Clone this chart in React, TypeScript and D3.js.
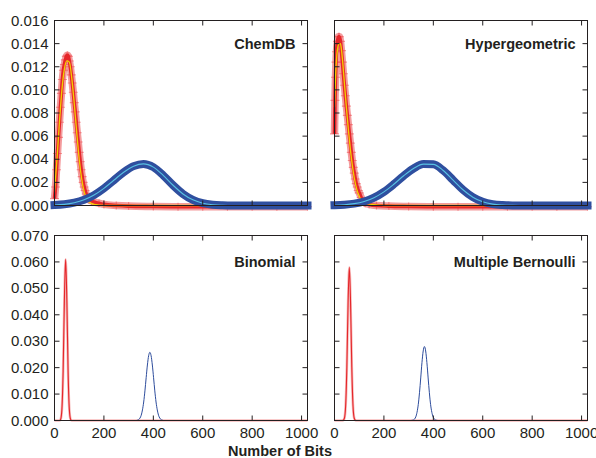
import React from 'react';
import * as d3 from 'd3';

const W = 596;
const H = 458;
const BITS_MAX = 1024;
const FONT = '"Liberation Sans", Arial, Helvetica, sans-serif';
const INK = '#231f20';

const xTicks = [0, 200, 400, 600, 800, 1000];
const topTicks = [0, 0.002, 0.004, 0.006, 0.008, 0.01, 0.012, 0.014, 0.016];
const bottomTicks = [0, 0.01, 0.02, 0.03, 0.04, 0.05, 0.06, 0.07];

// ChemDB (top left)
const chemRedBits = [0, 4, 8, 12, 16, 20, 24, 28, 32, 36, 40, 44, 48, 52, 56, 60, 64, 68, 72, 76, 80, 84, 88, 92, 96, 100, 104, 108, 112, 116, 120, 124, 128, 132, 136, 140, 150, 160, 180, 200, 250, 300, 400, 500, 600, 700, 800, 900, 1024];
const chemRedVals = [0.0007, 0.0017, 0.0032, 0.0046, 0.006, 0.0073, 0.0086, 0.0098, 0.011, 0.0118, 0.0123, 0.0127, 0.013, 0.0131, 0.013, 0.0126, 0.0121, 0.0114, 0.0107, 0.0099, 0.009, 0.0082, 0.0073, 0.0064, 0.0056, 0.0047, 0.0039, 0.0032, 0.0026, 0.0021, 0.0017, 0.0014, 0.0011, 0.0009, 0.0008, 0.0006, 0.0005, 0.0004, 0.0003, 0.0002, 0.0001, 0.00005, 0.00002, 0, 0, 0, 0, 0, 0];
const chemFitBits = [0, 10, 20, 30, 40, 50, 60, 70, 80, 90, 100, 110, 120, 130, 140, 160, 200, 1024];
const chemFitVals = [0.0012, 0.004, 0.0072, 0.01, 0.0118, 0.0125, 0.0124, 0.011, 0.0088, 0.0063, 0.004, 0.0023, 0.0012, 0.0006, 0.0003, 0.0001, 0, 0];

// Hypergeometric (top right)
const hypRedBits = [0, 2, 4, 6, 8, 12, 16, 20, 24, 28, 32, 36, 40, 44, 48, 52, 56, 60, 64, 68, 72, 76, 80, 84, 88, 92, 96, 100, 108, 116, 124, 140, 170, 220, 300, 400, 500, 600, 700, 800, 900, 1024];
const hypRedVals = [0.0063, 0.0092, 0.0112, 0.0125, 0.0134, 0.0143, 0.0147, 0.0147, 0.0143, 0.0135, 0.0125, 0.0115, 0.0105, 0.0096, 0.0087, 0.0079, 0.0071, 0.0063, 0.0055, 0.0047, 0.004, 0.0034, 0.0029, 0.0024, 0.002, 0.0017, 0.0014, 0.0012, 0.0008, 0.0005, 0.0003, 0.0002, 0.0001, 0.00005, 0.00002, 0, 0, 0, 0, 0, 0, 0];
const hypFitBits = [0, 4, 8, 12, 16, 20, 24, 28, 32, 40, 48, 56, 64, 72, 80, 90, 100, 110, 125, 150, 200, 1024];
const hypFitVals = [0.0085, 0.011, 0.0126, 0.0135, 0.0139, 0.014, 0.014, 0.0135, 0.0127, 0.0106, 0.0085, 0.0066, 0.0049, 0.0035, 0.0024, 0.0014, 0.0008, 0.0004, 0.0002, 0.0001, 0, 0];

// blue (long fingerprints), same bits for both top panels
const blueBits = [0, 40, 80, 120, 160, 200, 240, 280, 320, 360, 400, 440, 480, 520, 560, 600, 640, 680, 720, 800, 900, 1024];
const chemBlueVals = [0.00004, 0.0001, 0.00024, 0.00049, 0.0009, 0.00148, 0.00218, 0.00288, 0.0034, 0.0036, 0.00332, 0.00261, 0.00175, 0.001, 0.00049, 0.0002, 0.00007, 0.00002, 0, 0, 0, 0];
const hypBlueVals = [0.000024, 0.000066, 0.00016, 0.00035, 0.00068, 0.00118, 0.00184, 0.00257, 0.0032, 0.00358, 0.00356, 0.00303, 0.0022, 0.00136, 0.00072, 0.00032, 0.00012, 0.00004, 0.00001, 0, 0, 0];

// Binomial (bottom left)
const binRedBits = [0, 20, 25, 30, 35, 40, 45, 50, 55, 60, 65, 70, 1024];
const binRedVals = [0, 0, 0.0005, 0.0043, 0.0187, 0.0454, 0.061, 0.0454, 0.0187, 0.0043, 0.0005, 0, 0];
const binBlueBits = [0, 331, 336, 341, 346, 351, 356, 361, 366, 371, 376, 381, 386, 391, 396, 401, 406, 411, 416, 421, 426, 431, 436, 441, 1024];
const binBlueVals = [0, 0, 0.00014, 0.00038, 0.00092, 0.002, 0.004, 0.007, 0.0112, 0.0162, 0.021, 0.0245, 0.0258, 0.0245, 0.021, 0.0162, 0.0112, 0.007, 0.004, 0.002, 0.00092, 0.00038, 0.00014, 0, 0];

// Multiple Bernoulli (bottom right)
const mbRedBits = [0, 30, 35, 40, 45, 50, 55, 60, 65, 70, 75, 80, 85, 90, 1024];
const mbRedVals = [0, 0, 0.00008, 0.00085, 0.0054, 0.0202, 0.0445, 0.058, 0.0445, 0.0202, 0.0054, 0.00085, 0.00008, 0, 0];
const mbBlueBits = [0, 309, 314, 319, 324, 329, 334, 339, 344, 349, 354, 359, 364, 369, 374, 379, 384, 389, 394, 399, 404, 409, 414, 419, 1024];
const mbBlueVals = [0, 0, 0.00006, 0.00019, 0.00054, 0.00137, 0.0031, 0.006, 0.0105, 0.0161, 0.0219, 0.0263, 0.028, 0.0263, 0.0219, 0.0161, 0.0105, 0.006, 0.0031, 0.00137, 0.00054, 0.00019, 0.00006, 0, 0];

type Series = { bits: number[]; vals: number[] };

const Panel = ({ left, right, top, bottom, yMax, yTicks, showY, showX, title, red, fit, blue, lines }: any) => {
  const x = d3.scaleLinear().domain([0, BITS_MAX]).range([left, right]);
  const y = d3.scaleLinear().domain([0, yMax]).range([bottom, top]);
  const path = (s: Series) =>
    d3.line<number>()
      .x((d, i) => x(s.bits[i]))
      .y(d => y(d))
      .curve(d3.curveMonotoneX)(s.vals) || '';
  const fmt = d3.format('.3f');

  return (
    <g>
      {lines ? (
        <g fill="none">
          <path d={path(red)} stroke="#f29a9a" strokeWidth={2.6} opacity={0.7} />
          <path d={path(red)} stroke="#e5262a" strokeWidth={1.1} />
          <path d={path(blue)} stroke="#2d4c9c" strokeWidth={1} />
        </g>
      ) : (
        <g fill="none">
          {/* red markers sit a touch low, like the printed + symbols */}
          <g transform="translate(0,1.2)">
            <path d={path(red)} stroke="#f07173" strokeWidth={7.5} opacity={0.7} strokeLinejoin="round" />
            {red.bits.map((b: number, i: number) => (
              <path key={i} transform={`translate(${x(b)},${y(red.vals[i])})`}
                d="M-4.5,0H4.5M0,-4V4" stroke="#ee5558" strokeWidth={1.1} opacity={0.6} />
            ))}
            <path d={path(red)} stroke="#e6262a" strokeWidth={3.6} strokeLinejoin="round" />
          </g>
          <path d={path(fit)} stroke="#f2d000" strokeWidth={1.3} />
          <path d={path(blue)} stroke="#2f4f9f" strokeWidth={8} strokeLinecap="square" strokeLinejoin="round" />
          <path d={path(blue)} stroke="#58c2e2" strokeWidth={1.1} />
        </g>
      )}

      <rect x={left} y={top} width={right - left} height={bottom - top} fill="none" stroke={INK} strokeWidth={1} />

      {xTicks.map(t => (
        <g key={'x' + t}>
          <line x1={x(t)} x2={x(t)} y1={bottom} y2={bottom - 5} stroke={INK} />
          <line x1={x(t)} x2={x(t)} y1={top} y2={top + 5} stroke={INK} />
          {showX && (
            <text x={x(t)} y={bottom + 17} textAnchor="middle" fontSize={15} fill={INK}>{t}</text>
          )}
        </g>
      ))}
      {yTicks.map((t: number) => (
        <g key={'y' + t}>
          <line x1={left} x2={left + 5} y1={y(t)} y2={y(t)} stroke={INK} />
          <line x1={right} x2={right - 5} y1={y(t)} y2={y(t)} stroke={INK} />
          {showY && (
            <text x={left - 6} y={y(t) + 5} textAnchor="end" fontSize={15} fill={INK}>{fmt(t)}</text>
          )}
        </g>
      ))}
      <text x={right - 12} y={y(yTicks[yTicks.length - 2]) + 5} textAnchor="end"
        fontSize={14.5} fontWeight="bold" fill={INK}>{title}</text>
    </g>
  );
};

export default function App() {
  const L = [54.5, 307.5];
  const R = [334.5, 587.5];
  const T = [20.5, 205.5];
  const B = [235.5, 420.5];
  return (
    <svg width={W} height={H} style={{ position: 'absolute', left: 0, top: 0, fontFamily: FONT }}>
      <rect width={W} height={H} fill="#fff" />
      <Panel left={L[0]} right={L[1]} top={T[0]} bottom={T[1]} yMax={0.016} yTicks={topTicks}
        showY showX={false} title="ChemDB"
        red={{ bits: chemRedBits, vals: chemRedVals }}
        fit={{ bits: chemFitBits, vals: chemFitVals }}
        blue={{ bits: blueBits, vals: chemBlueVals }} />
      <Panel left={R[0]} right={R[1]} top={T[0]} bottom={T[1]} yMax={0.016} yTicks={topTicks}
        showY={false} showX={false} title="Hypergeometric"
        red={{ bits: hypRedBits, vals: hypRedVals }}
        fit={{ bits: hypFitBits, vals: hypFitVals }}
        blue={{ bits: blueBits, vals: hypBlueVals }} />
      <Panel left={L[0]} right={L[1]} top={B[0]} bottom={B[1]} yMax={0.07} yTicks={bottomTicks}
        showY showX title="Binomial" lines
        red={{ bits: binRedBits, vals: binRedVals }}
        blue={{ bits: binBlueBits, vals: binBlueVals }} />
      <Panel left={R[0]} right={R[1]} top={B[0]} bottom={B[1]} yMax={0.07} yTicks={bottomTicks}
        showY={false} showX title="Multiple Bernoulli" lines
        red={{ bits: mbRedBits, vals: mbRedVals }}
        blue={{ bits: mbBlueBits, vals: mbBlueVals }} />
      <text x={280} y={456} textAnchor="middle" fontSize={14.5} fontWeight="bold" fill={INK}>Number of Bits</text>
    </svg>
  );
}
